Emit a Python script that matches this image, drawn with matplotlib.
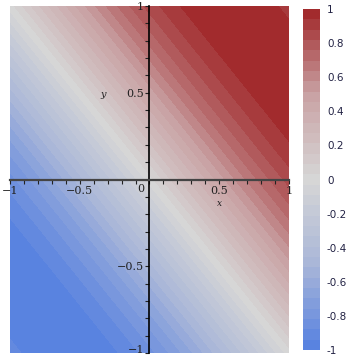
import numpy as np
import matplotlib.pyplot as plt
import matplotlib.transforms as mtransforms
from matplotlib.colors import LinearSegmentedColormap

# surface z = sin(x + y) on [-1, 1] x [-1, 1]
x_range = [-1.0, 1.0]
y_range = [-1.0, 1.0]
n_grid = 300
levels = np.linspace(-1, 1, 34)
cbar_ticks = [-1, -0.8, -0.6, -0.4, -0.2, 0, 0.2, 0.4, 0.6, 0.8, 1]
cbar_labels = ["-1", "-0.8", "-0.6", "-0.4", "-0.2", "0", "0.2", "0.4", "0.6", "0.8", "1"]
x_ticks = [-1, -0.5, 0.5, 1]
x_tick_labels = ["\u22121", "\u22120.5", "0.5", "1"]
y_ticks = [-1, -0.5, 0.5, 1]
y_tick_labels = ["\u22121", "\u22120.5", "0.5", "1"]

cmap = LinearSegmentedColormap.from_list(
    "maple_cw", ["#5580e0", "#a9b6d8", "#d6d6d6", "#c9a2a4", "#a02527"])

xs = np.linspace(x_range[0], x_range[1], n_grid)
ys = np.linspace(y_range[0], y_range[1], n_grid)
X, Y = np.meshgrid(xs, ys)
Z = np.sin(X + Y)

fig = plt.figure(figsize=(3.55, 3.55), dpi=100)
ax = fig.add_axes([10 / 355, 2 / 355, 279 / 355, 347 / 355])
cf = ax.contourf(X, Y, Z, levels=levels, cmap=cmap, vmin=-1, vmax=1)

ax.set_xlim(x_range)
ax.set_ylim(y_range)
for side in ["top", "right"]:
    ax.spines[side].set_visible(False)
ax.spines["left"].set_position("zero")
ax.spines["bottom"].set_position("zero")
ax.spines["left"].set_linewidth(1.2)
ax.spines["bottom"].set_linewidth(1.6)
ax.spines["bottom"].set_color("#444444")

ax.set_xticks(x_ticks)
ax.set_xticklabels(x_tick_labels)
ax.set_yticks(y_ticks)
ax.set_yticklabels(y_tick_labels)
ax.set_xticks(np.arange(-1, 1.01, 0.1), minor=True)
ax.set_yticks(np.arange(-1, 1.01, 0.1), minor=True)
ax.tick_params(which="both", length=3, width=0.8,
               labelsize=8, labelfontfamily="DejaVu Serif", colors="#222222")
ax.tick_params(axis="x", which="both", direction="out", pad=2)
ax.tick_params(axis="y", which="both", direction="out", pad=1)

# keep the bottom y label inside the figure
lab = ax.get_yticklabels()[0]
lab.set_transform(lab.get_transform() +
                  mtransforms.ScaledTranslation(0, 4 / 100, fig.dpi_scale_trans))

ax.text(-0.035, -0.025, "0", ha="right", va="top", fontsize=8,
        family="DejaVu Serif", color="#222222")
ax.text(0.5, -0.14, "x", ha="center", va="center", fontsize=6.5,
        family="DejaVu Serif", style="italic", color="#222222")
ax.text(-0.33, 0.49, "y", ha="center", va="center", fontsize=7,
        family="DejaVu Serif", style="italic", color="#222222")

cax = fig.add_axes([303 / 355, 5 / 355, 17 / 355, 341 / 355])
cb = fig.colorbar(cf, cax=cax, ticks=cbar_ticks)
cb.outline.set_visible(False)
cb.ax.set_yticklabels(cbar_labels)
cb.ax.tick_params(length=0, labelsize=7.5, pad=5, colors="#222244")

fig.savefig("out.png", dpi=100)
